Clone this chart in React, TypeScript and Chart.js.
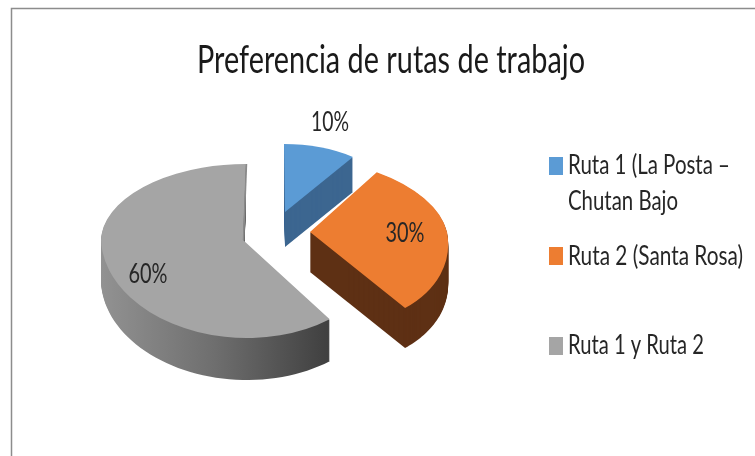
import React, { useEffect, useRef } from "react";
import { Chart, registerables } from "chart.js";

Chart.register(...registerables);

const chartTitle = "Preferencia de rutas de trabajo";
const categories = ["Ruta 1 (La Posta – Chutan Bajo", "Ruta 2 (Santa Rosa)", "Ruta 1 y Ruta 2"];
const legendLines = [["Ruta 1 (La Posta –", "Chutan Bajo"], ["Ruta 2 (Santa Rosa)"], ["Ruta 1 y Ruta 2"]];
const values = [10, 30, 60];
const topColors = ["#5b9bd5", "#ed7d31", "#a5a5a5"];

const FONT = 'Lato, "Liberation Sans", sans-serif';
const TEXT = "#262626";

// Perspective look of each exploded slice: apex on screen, horizontal radius, shear, up / down radii, wall height
const slicesLook = [
  { x: 285, y: 212, a: 117, bUp: 1, bDown: 1, dUp: 68, dDown: 68, depth: 35, wall: "#3c6690" },
  { x: 310, y: 232, a: 137, bUp: 17, bDown: 18, dUp: 74, dDown: 94, depth: 40, wall: "#5e3014" },
  { x: 243, y: 240, a: 142, bUp: -3, bDown: 4, dUp: 76, dDown: 98, depth: 42, wall: "gradient" },
];
const labelSpots = [
  { x: 330, y: 122, w: 38 },
  { x: 405, y: 233, w: 39 },
  { x: 148, y: 274, w: 39 },
];
const legendSpots = [
  { box: 157, lines: [166, 202], widths: [162, 110] },
  { box: 247, lines: [257], widths: [175] },
  { box: 337, lines: [346], widths: [136] },
];

const pie3d = {
  id: "pie3d",
  beforeDraw(chart: any) {
    const { ctx, width, height } = chart;
    ctx.save();
    ctx.fillStyle = "#ffffff";
    ctx.fillRect(0, 0, width, height);
    ctx.strokeStyle = "#8c8c8c";
    ctx.lineWidth = 1.5;
    ctx.beginPath();
    ctx.moveTo(11.5, height);
    ctx.lineTo(11.5, 8.5);
    ctx.lineTo(width, 8.5);
    ctx.stroke();
    ctx.restore();
  },
  beforeDatasetsDraw(chart: any) {
    const { ctx, width, height } = chart;
    const arcs = chart.getDatasetMeta(0).data;
    arcs.forEach((arc: any, i: number) => {
      const s = slicesLook[i];
      const pt = (t: number) => {
        const ux = Math.cos(t);
        const uy = Math.sin(t);
        return [
          s.x + s.a * ux + (uy < 0 ? s.bUp : s.bDown) * uy,
          s.y + (uy < 0 ? s.dUp : s.dDown) * uy,
        ];
      };
      // wall
      ctx.save();
      if (s.wall === "gradient") {
        const g = ctx.createLinearGradient(101, 0, 330, 0);
        g.addColorStop(0, "#929292");
        g.addColorStop(0.5, "#6e6e6e");
        g.addColorStop(1, "#3f3f3f");
        ctx.fillStyle = g;
      } else {
        ctx.fillStyle = s.wall;
      }
      for (let k = s.depth; k >= 1; k--) {
        ctx.beginPath();
        ctx.moveTo(s.x, s.y + k);
        const n = 80;
        for (let j = 0; j <= n; j++) {
          const p = pt(arc.startAngle + ((arc.endAngle - arc.startAngle) * j) / n);
          ctx.lineTo(p[0], p[1] + k);
        }
        ctx.closePath();
        ctx.fill();
      }
      ctx.restore();
      // top face, drawn by the library's arc element, one pass above and one below the apex
      const R = arc.outerRadius;
      [
        { top: 0, h: s.y + 0.5, b: s.bUp, d: s.dUp },
        { top: s.y, h: height - s.y, b: s.bDown, d: s.dDown },
      ].forEach((part) => {
        ctx.save();
        ctx.beginPath();
        ctx.rect(0, part.top, width, part.h);
        ctx.clip();
        ctx.translate(s.x, s.y);
        ctx.transform(s.a / R, 0, part.b / R, part.d / R, 0, 0);
        ctx.translate(-arc.x, -arc.y);
        arc.draw(ctx);
        ctx.restore();
      });
    });
    // thin inner wall of the large slice
    const big = slicesLook[2];
    ctx.save();
    ctx.strokeStyle = "#8a8a8a";
    ctx.lineWidth = 1.5;
    ctx.beginPath();
    ctx.moveTo(big.x + 0.5, big.y);
    ctx.lineTo(big.x + 3.5, big.y - big.dUp);
    ctx.stroke();
    ctx.restore();
    return false;
  },
  afterDraw(chart: any) {
    const { ctx } = chart;
    const total = values.reduce((p, v) => p + v, 0);
    ctx.save();
    ctx.textBaseline = "middle";
    ctx.fillStyle = TEXT;
    ctx.font = `27px ${FONT}`;
    ctx.textAlign = "center";
    values.forEach((v, i) => {
      const s = labelSpots[i];
      ctx.fillText(`${Math.round((v / total) * 100)}%`, s.x, s.y, s.w);
    });
    ctx.textAlign = "left";
    ctx.font = `26px ${FONT}`;
    categories.forEach((_, i) => {
      const l = legendSpots[i];
      ctx.fillStyle = topColors[i];
      ctx.fillRect(549, l.box, 14, 18);
      ctx.fillStyle = TEXT;
      legendLines[i].forEach((line, j) => ctx.fillText(line, 568, l.lines[j], l.widths[j]));
    });
    ctx.restore();
  },
};

export default function App() {
  const ref = useRef<HTMLCanvasElement>(null);
  useEffect(() => {
    const chart = new Chart(ref.current as HTMLCanvasElement, {
      type: "pie",
      data: {
        labels: categories,
        datasets: [{ data: values, backgroundColor: topColors, borderWidth: 0 }],
      },
      options: {
        responsive: false,
        animation: false,
        layout: { padding: { left: 197, top: 38, right: 170, bottom: 0 } },
        plugins: {
          legend: { display: false },
          tooltip: { enabled: false },
          title: {
            display: true,
            text: chartTitle,
            color: "#1a1a1a",
            font: { family: FONT, size: 38, weight: "normal" },
            padding: 0,
          },
        },
      },
      plugins: [pie3d],
    } as any);
    return () => chart.destroy();
  }, []);
  return <canvas ref={ref} width={755} height={456} style={{ position: "absolute", left: 0, top: 0 }} />;
}
